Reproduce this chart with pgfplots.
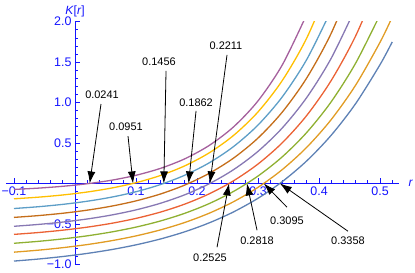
\documentclass[border=0pt]{standalone}
\usepackage{pgfplots}
\pgfplotsset{compat=1.18}
\usepackage{fontspec}
\setmainfont{Liberation Sans}
\usetikzlibrary{arrows.meta}
\definecolor{c1}{HTML}{5E81B5}
\definecolor{c2}{HTML}{E19C24}
\definecolor{c3}{HTML}{8FB032}
\definecolor{c4}{HTML}{EB6235}
\definecolor{c5}{HTML}{8778B3}
\definecolor{c6}{HTML}{C56E1A}
\definecolor{c7}{HTML}{5D9EC7}
\definecolor{c8}{HTML}{FFBF00}
\definecolor{c9}{HTML}{A5609D}
\definecolor{axblue}{HTML}{1414FF}
\begin{document}
\begin{tikzpicture}
\useasboundingbox (-6bp,-8.7bp) rectangle (409bp,264.3bp);
\begin{axis}[
  at={(0,0)}, anchor=south west,
  scale only axis, width=393bp, height=242.6bp,
  xmin=-0.1131, xmax=0.5311, ymin=-1, ymax=2,
  axis lines=middle,
  axis line style={-, axblue, line width=0.9bp},
  tick style={axblue, line width=0.7bp},
  tick align=inside,
  major tick length=5bp, minor tick length=3bp,
  xtick={-0.1,0.1,0.2,0.3,0.4,0.5},
  xticklabels={−0.1,0.1,0.2,0.3,0.4,0.5},
  ytick={-1,-0.5,0.5,1,1.5,2},
  yticklabels={−1.0,−0.5,0.5,1.0,1.5,2.0},
  minor xtick={-0.08,-0.06,-0.04,-0.02,0.02,0.04,0.06,0.08,0.12,0.14,0.16,0.18,0.22,0.24,0.26,0.28,0.32,0.34,0.36,0.38,0.42,0.44,0.46,0.48,0.52},
  minor ytick={-0.9,-0.8,-0.7,-0.6,-0.4,-0.3,-0.2,-0.1,0.1,0.2,0.3,0.4,0.6,0.7,0.8,0.9,1.1,1.2,1.3,1.4,1.6,1.7,1.8,1.9},
  ticklabel style={font=\fontsize{12.5}{12.5}\selectfont, text=axblue},
  every axis x label/.style={at={(current axis.right of origin)}, anchor=west, xshift=6bp, font=\fontsize{12}{12}\selectfont, text=axblue},
  every axis y label/.style={at={(current axis.above origin)}, anchor=south, yshift=1bp, font=\fontsize{12}{12}\selectfont, text=axblue},
  xlabel={\textit{r}},
  ylabel={\textit{K}[\textit{r}]},
  every axis plot/.append style={smooth, line width=1.3bp, no markers},
]
\addplot[c1] coordinates {(-0.1,-0.9601)(-0.06,-0.9349)(-0.02,-0.9038)(0.02,-0.8654)(0.06,-0.8179)(0.10,-0.7594)(0.14,-0.6871)(0.18,-0.5978)(0.22,-0.4876)(0.26,-0.3515)(0.30,-0.1835)(0.34,0.0240)(0.38,0.2801)(0.42,0.5964)(0.46,0.9869)(0.50,1.4687)(0.52,1.7503)};
\addplot[c2] coordinates {(-0.1,-0.8499)(-0.06,-0.8252)(-0.02,-0.7943)(0.02,-0.7560)(0.06,-0.7082)(0.10,-0.6488)(0.14,-0.5748)(0.18,-0.4828)(0.22,-0.3682)(0.26,-0.2256)(0.30,-0.0482)(0.34,0.1727)(0.38,0.4476)(0.42,0.7897)(0.46,1.2155)(0.50,1.7456)(0.52,2.0574)};
\addplot[c3] coordinates {(-0.1,-0.7400)(-0.06,-0.7161)(-0.02,-0.6859)(0.02,-0.6479)(0.06,-0.6001)(0.10,-0.5400)(0.14,-0.4643)(0.18,-0.3691)(0.22,-0.2491)(0.26,-0.0982)(0.30,0.0917)(0.34,0.3307)(0.38,0.6316)(0.42,1.0102)(0.46,1.4868)(0.50,2.0864)};
\addplot[c4] coordinates {(-0.1,-0.6300)(-0.06,-0.6072)(-0.02,-0.5780)(0.02,-0.5407)(0.06,-0.4931)(0.10,-0.4323)(0.14,-0.3546)(0.18,-0.2553)(0.22,-0.1286)(0.26,0.0334)(0.30,0.2402)(0.34,0.5045)(0.38,0.8420)(0.42,1.2732)(0.46,1.8239)(0.50,2.5273)};
\addplot[c5] coordinates {(-0.1,-0.5299)(-0.06,-0.5070)(-0.02,-0.4775)(0.02,-0.4395)(0.06,-0.3904)(0.10,-0.3271)(0.14,-0.2454)(0.18,-0.1401)(0.22,-0.0043)(0.26,0.1708)(0.30,0.3967)(0.34,0.6880)(0.38,1.0638)(0.42,1.5482)(0.46,2.1731)};
\addplot[c6] coordinates {(-0.1,-0.4200)(-0.06,-0.3977)(-0.02,-0.3686)(0.02,-0.3305)(0.06,-0.2807)(0.10,-0.2158)(0.14,-0.1309)(0.18,-0.0200)(0.22,0.1249)(0.26,0.3141)(0.30,0.5613)(0.34,0.8843)(0.38,1.3061)(0.42,1.8572)(0.46,2.5770)};
\addplot[c7] coordinates {(-0.1,-0.3101)(-0.06,-0.2880)(-0.02,-0.2587)(0.02,-0.2202)(0.06,-0.1695)(0.10,-0.1026)(0.14,-0.0144)(0.18,0.1018)(0.22,0.2549)(0.26,0.4566)(0.30,0.7224)(0.34,1.0729)(0.38,1.5345)(0.42,2.1430)};
\addplot[c8] coordinates {(-0.1,-0.1901)(-0.06,-0.1698)(-0.02,-0.1426)(0.02,-0.1061)(0.06,-0.0569)(0.10,0.0092)(0.14,0.0981)(0.18,0.2176)(0.22,0.3782)(0.26,0.5942)(0.30,0.8846)(0.34,1.2751)(0.38,1.8001)(0.42,2.5059)};
\addplot[c9] coordinates {(-0.1,-0.0740)(-0.06,-0.0579)(-0.02,-0.0353)(0.02,-0.0039)(0.06,0.0399)(0.10,0.1009)(0.14,0.1860)(0.18,0.3045)(0.22,0.4698)(0.26,0.7000)(0.30,1.0210)(0.34,1.4684)(0.38,2.0920)};
\tikzset{ann/.style={black, line width=0.8bp, -{Latex[length=12bp,width=8bp]}}, lab/.style={font=\fontsize{11}{11}\selectfont, text=black, inner sep=0pt}}
\draw[ann] (axis cs:0.0426,0.982) -- (axis cs:0.0241,0);
\node[lab] at (axis cs:0.0443,1.094) {0.0241};
\draw[ann] (axis cs:0.0869,0.586) -- (axis cs:0.0951,0);
\node[lab] at (axis cs:0.0836,0.697) {0.0951};
\draw[ann] (axis cs:0.1492,1.392) -- (axis cs:0.1456,0);
\node[lab] at (axis cs:0.1377,1.503) {0.1456};
\draw[ann] (axis cs:0.1984,0.896) -- (axis cs:0.1862,0);
\node[lab] at (axis cs:0.1984,1.001) {0.1862};
\draw[ann] (axis cs:0.2492,1.590) -- (axis cs:0.2211,0);
\node[lab] at (axis cs:0.2475,1.701) {0.2211};
\draw[ann] (axis cs:0.2328,-0.789) -- (axis cs:0.2525,0);
\node[lab] at (axis cs:0.2213,-0.913) {0.2525};
\draw[ann] (axis cs:0.2984,-0.579) -- (axis cs:0.2818,0);
\node[lab] at (axis cs:0.2984,-0.703) {0.2818};
\draw[ann] (axis cs:0.3475,-0.294) -- (axis cs:0.3095,0);
\node[lab] at (axis cs:0.3475,-0.455) {0.3095};
\draw[ann] (axis cs:0.4475,-0.591) -- (axis cs:0.3358,0);
\node[lab] at (axis cs:0.4475,-0.703) {0.3358};
\end{axis}
\end{tikzpicture}
\end{document}
